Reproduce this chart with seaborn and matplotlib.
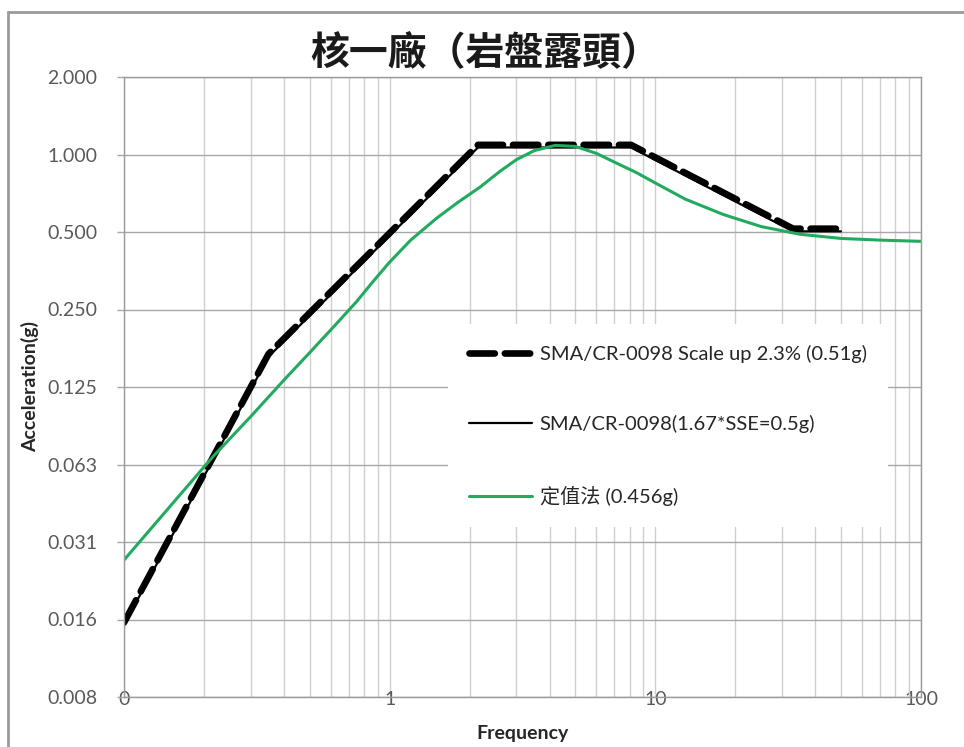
import matplotlib

matplotlib.use("Agg")
import matplotlib.pyplot as plt
import seaborn as sns
from matplotlib.lines import Line2D

# Puntos de control del espectro SMA/CR-0098
frecuencia_sma = [0.1, 0.35, 2.15, 8.1, 33.0, 50.0]
aceleracion_sma_escalada = [0.0152, 0.168, 1.09, 1.09, 0.515, 0.515]
aceleracion_sma = [0.0149, 0.164, 1.065, 1.065, 0.503, 0.503]

# Espectro por el metodo de valor fijo (定值法)
frecuencia_valor = [0.1, 0.15, 0.216, 0.3, 0.4, 0.5, 0.62, 0.75, 0.87, 1.0,
                    1.2, 1.5, 1.8, 2.2, 2.6, 3.0, 3.5, 4.2, 5.0, 6.0, 7.0,
                    8.5, 10.0, 13.0, 18.0, 25.0, 35.0, 50.0, 70.0, 100.0]
aceleracion_valor = [0.0266, 0.0433, 0.067, 0.096, 0.133, 0.170, 0.216, 0.268,
                     0.323, 0.382, 0.465, 0.565, 0.65, 0.75, 0.86, 0.955,
                     1.035, 1.085, 1.075, 1.01, 0.935, 0.85, 0.775, 0.67,
                     0.585, 0.525, 0.49, 0.472, 0.465, 0.46]

etiquetas_series = [
    "SMA/CR-0098 Scale up 2.3% (0.51g)",
    "SMA/CR-0098(1.67*SSE=0.5g)",
    "定值法 (0.456g)",
]

ticks_x = [0.1, 1, 10, 100]
etiquetas_x = ["0", "1", "10", "100"]
ticks_y = [2 ** -7, 2 ** -6, 2 ** -5, 2 ** -4, 2 ** -3, 2 ** -2, 2 ** -1, 1, 2]
etiquetas_y = ["0.008", "0.016", "0.031", "0.063", "0.125", "0.250",
               "0.500", "1.000", "2.000"]

TITULO = "核一廠（岩盤露頭）"
VERDE = "#22ab5e"
GRIS_TEXTO = "#595959"

sns.set_theme(style="white")
plt.rcParams["font.family"] = ["Lato", "Noto Sans CJK TC", "DejaVu Sans"]

fig = plt.figure(figsize=(9.64, 7.47), dpi=100)
ax = fig.add_axes([124 / 964, 1 - 697 / 747, 797 / 964, 620 / 747])

sns.lineplot(x=frecuencia_sma, y=aceleracion_sma_escalada, ax=ax,
             color="black", linewidth=4.8, label=etiquetas_series[0],
             sort=False)
ax.lines[-1].set_linestyle((0, (3.8, 1.5)))
ax.lines[-1].set_dash_capstyle("round")
sns.lineplot(x=frecuencia_sma, y=aceleracion_sma, ax=ax, color="black",
             linewidth=1.6, label=etiquetas_series[1], sort=False)
sns.lineplot(x=frecuencia_valor, y=aceleracion_valor, ax=ax, color=VERDE,
             linewidth=2.2, label=etiquetas_series[2], sort=False)

ax.set_xscale("log")
ax.set_yscale("log", base=2)
ax.set_xlim(0.1, 100)
ax.set_ylim(2 ** -7, 2)

ax.set_xticks(ticks_x)
ax.set_xticklabels(etiquetas_x)
ax.set_yticks(ticks_y)
ax.set_yticklabels(etiquetas_y)
ax.yaxis.set_minor_locator(matplotlib.ticker.NullLocator())

ax.grid(True, which="major", axis="y", color="#a8a8a8", linewidth=1.0)
ax.grid(True, which="both", axis="x", color="#cfcfcf", linewidth=1.0)
ax.set_axisbelow(True)

ax.tick_params(axis="x", which="both", length=0, pad=-4, labelsize=14,
               labelcolor=GRIS_TEXTO)
ax.tick_params(axis="y", which="major", length=5, width=1, color="#a8a8a8",
               pad=14, labelsize=14, labelcolor=GRIS_TEXTO, left=True)
for lado in ["left", "bottom", "top", "right"]:
    ax.spines[lado].set_color("#9a9a9a")
    ax.spines[lado].set_linewidth(1.0)

ax.set_xlabel("Frequency", fontsize=14, fontweight="bold", color="#262626",
              labelpad=12)
ax.set_ylabel("Acceleration(g)", fontsize=14, fontweight="bold",
              color="#262626", labelpad=6)

ley = ax.legend(loc="upper left", bbox_to_anchor=(0.4065, 0.602),
                borderaxespad=0, fontsize=14.5, frameon=True, fancybox=False,
                framealpha=1, edgecolor="none", facecolor="white",
                handlelength=3.1, handletextpad=0.4, labelspacing=2.6,
                borderpad=1.05)
for texto in ley.get_texts():
    texto.set_color("#262626")

fig.text(485 / 964, 1 - 53 / 747, TITULO, fontsize=28, fontweight="bold",
         ha="center", va="center", color="#1a1a1a",
         family=["Noto Sans CJK TC", "DejaVu Sans"])

# Marco gris de la figura (izquierda y arriba)
y_marco = 1 - 12 / 747
x_marco = 8 / 964
fig.add_artist(Line2D([x_marco, x_marco], [0, y_marco], color="#9a9a9a",
                      linewidth=2, transform=fig.transFigure))
fig.add_artist(Line2D([x_marco, 1], [y_marco, y_marco], color="#9a9a9a",
                      linewidth=2, transform=fig.transFigure))

fig.savefig("out.png", dpi=100)
